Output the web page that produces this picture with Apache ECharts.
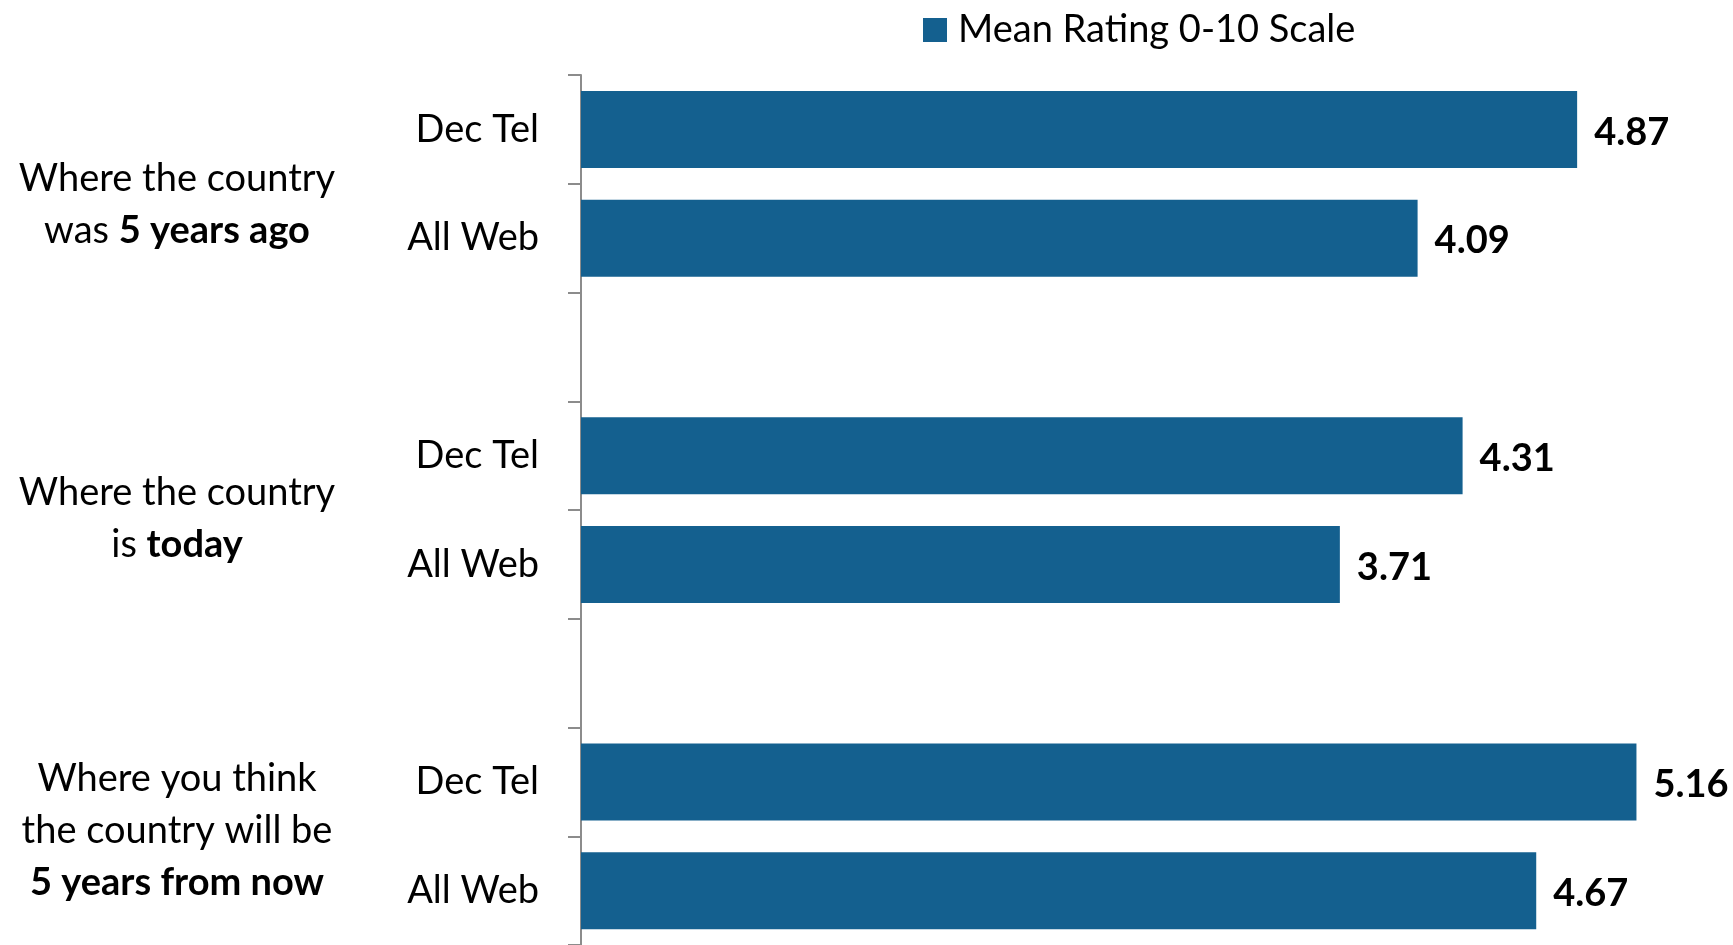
<!DOCTYPE html>
<html>
<head>
<meta charset="utf-8">
<script src="https://cdn.jsdelivr.net/npm/echarts@6/dist/echarts.min.js"></script>
<style>
  html, body { margin: 0; padding: 0; background: #fff; }
  #main { width: 1733px; height: 945px; }
</style>
</head>
<body>
<div id="main"></div>
<script>
// rows top to bottom, blank rows are the gaps between groups
var categories = ['Dec Tel', 'All Web', '', 'Dec Tel', 'All Web', '', 'Dec Tel', 'All Web'];
var ratings = [4.87, 4.09, '-', 4.31, 3.71, '-', 5.16, 4.67];
var seriesName = 'Mean Rating 0-10 Scale';

// group captions (left side), {b|...} is bold
var groupLabels = [
  'Where the country\nwas {b|5 years ago}',
  'Where the country\nis {b|today}',
  'Where you think\nthe country will be\n{b|5 years from now}'
];
var groupCenters = [205, 519, 831];

var FONT = 'Lato';
var BLUE = '#14608f';

var chart = echarts.init(document.getElementById('main'));

var option = {
  animation: false,
  textStyle: { fontFamily: FONT },
  legend: {
    data: [seriesName],
    left: 918,
    top: 6,
    icon: 'rect',
    itemWidth: 24,
    itemHeight: 24,
    textStyle: { fontSize: 38, color: '#000', padding: [0, 0, 0, 6] }
  },
  grid: {
    left: 581,
    top: 75,
    width: 1125,
    height: 874
  },
  xAxis: {
    type: 'value',
    min: 0,
    max: 5.5,
    show: false
  },
  yAxis: {
    type: 'category',
    inverse: true,
    data: categories,
    axisLine: { show: true, lineStyle: { color: '#8c8c8c', width: 2 } },
    axisTick: { show: true, length: 13, lineStyle: { color: '#8c8c8c', width: 2 } },
    axisLabel: { fontSize: 38, color: '#000', margin: 42 }
  },
  series: [{
    name: seriesName,
    type: 'bar',
    data: ratings,
    barWidth: 77,
    itemStyle: { color: BLUE },
    label: {
      show: true,
      position: 'right',
      distance: 17,
      offset: [0, 3],
      fontSize: 38,
      fontWeight: 'bold',
      color: '#000',
      formatter: function (p) { return p.value.toFixed(2); }
    }
  }],
  graphic: groupLabels.map(function (t, i) {
    return {
      type: 'text',
      x: 177,
      y: groupCenters[i],
      style: {
        text: t,
        fontFamily: FONT,
        fontSize: 38,
        lineHeight: 52,
        fill: '#000',
        align: 'center',
        verticalAlign: 'middle',
        rich: {
          b: { fontFamily: FONT, fontSize: 38, fontWeight: 'bold', lineHeight: 52, fill: '#000' }
        }
      }
    };
  })
};

chart.setOption(option);
</script>
</body>
</html>
